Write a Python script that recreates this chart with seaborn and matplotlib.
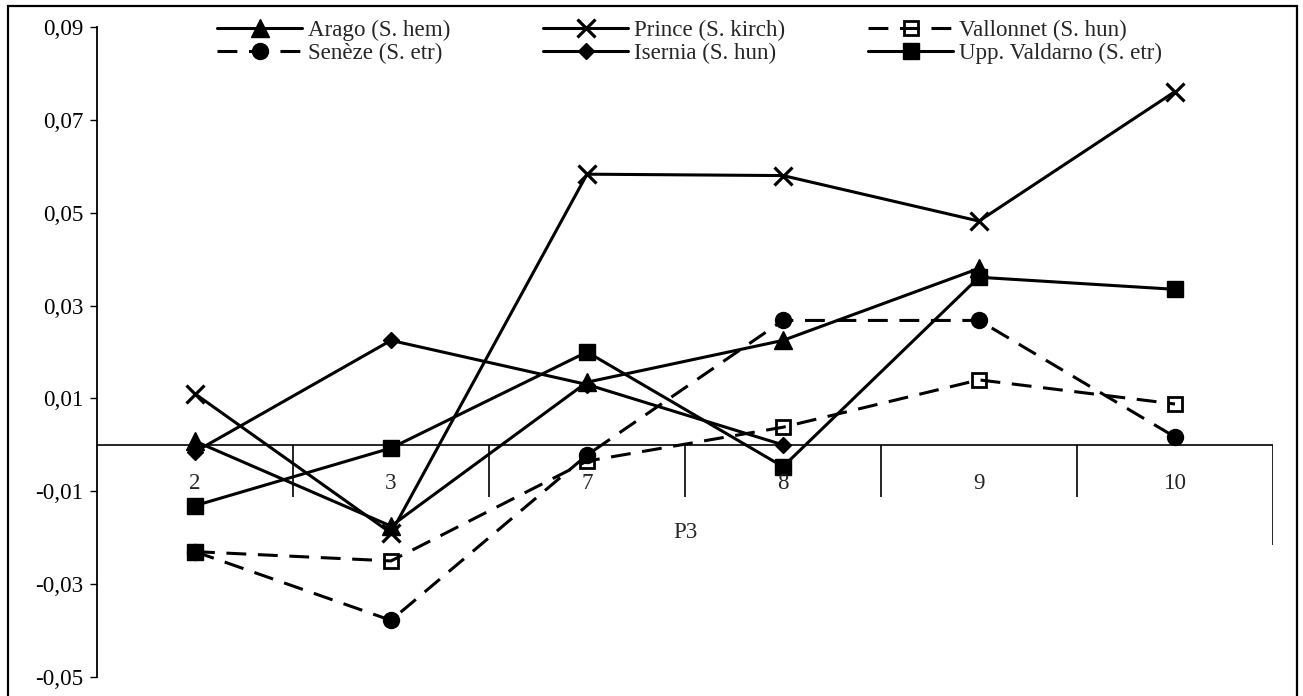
import numpy as np
import pandas as pd
import matplotlib
matplotlib.use("Agg")
import matplotlib.pyplot as plt
import seaborn as sns
from matplotlib.patches import Rectangle

# ---- data -------------------------------------------------------------
categories = ["2", "3", "7", "8", "9", "10"]

arago = [0.0008, -0.0175, 0.0135, 0.0225, 0.0380, np.nan]
prince = [0.0110, -0.0190, 0.0583, 0.0580, 0.0482, 0.0761]
vallonnet = [-0.0230, -0.0250, -0.0035, 0.0038, 0.0140, 0.0088]
seneze = [-0.0230, -0.0378, -0.0022, 0.0268, 0.0268, 0.0017]
isernia = [-0.0015, 0.0225, 0.0130, 0.0000, np.nan, np.nan]
valdarno = [-0.0131, -0.0007, 0.0200, -0.0047, 0.0361, 0.0335]

series_names = ["Arago (S. hem)", "Senèze (S. etr)", "Prince (S. kirch)",
                "Isernia (S. hun)", "Vallonnet (S. hun)", "Upp. Valdarno (S. etr)"]
series_values = [arago, seneze, prince, isernia, vallonnet, valdarno]

y_ticks = [-0.05, -0.03, -0.01, 0.01, 0.03, 0.05, 0.07, 0.09]
y_tick_labels = ["-0,05", "-0,03", "-0,01", "0,01", "0,03", "0,05", "0,07", "0,09"]
x_title = "P3"

# ---- styling ----------------------------------------------------------
sns.set_theme(style="white")
plt.rcParams["font.family"] = ["Liberation Serif", "DejaVu Serif"]
FS = 16.6

DASH = (0, (6.5, 3.8))
styles = {
    "Arago (S. hem)": dict(marker="^", markersize=13, markerfacecolor="black", linestyle="-"),
    "Senèze (S. etr)": dict(marker="o", markersize=11.5, markerfacecolor="black", linestyle=DASH),
    "Prince (S. kirch)": dict(marker="x", markersize=13, markerfacecolor="black", linestyle="-",
                              markeredgewidth=2.3),
    "Isernia (S. hun)": dict(marker="D", markersize=8.5, markerfacecolor="black", linestyle="-"),
    "Vallonnet (S. hun)": dict(marker="s", markersize=10.5, markerfacecolor="none", linestyle=DASH,
                               markeredgewidth=2.0),
    "Upp. Valdarno (S. etr)": dict(marker="s", markersize=11, markerfacecolor="black", linestyle="-"),
}

rows = []
for name, vals in zip(series_names, series_values):
    for i, v in enumerate(vals):
        rows.append({"series": name, "pos": i, "value": v})
df = pd.DataFrame(rows).dropna()

fig = plt.figure(figsize=(13.03, 6.96), dpi=100)
ax = fig.add_axes([97 / 1303, 19 / 696, 1176 / 1303, 650 / 696])

draw_order = ["Arago (S. hem)", "Prince (S. kirch)", "Vallonnet (S. hun)",
              "Senèze (S. etr)", "Isernia (S. hun)", "Upp. Valdarno (S. etr)"]
for name in draw_order:
    st = dict(styles[name])
    st.setdefault("markeredgewidth", 1.0)
    sub = df[df["series"] == name]
    sns.lineplot(data=sub, x="pos", y="value", ax=ax, color="black", linewidth=2.2,
                 markeredgecolor="black", errorbar=None, label=name, clip_on=False, **st)

# shared starting point of the two dashed series is drawn as a filled square
ax.plot([0], [seneze[0]], marker="s", markersize=11, color="black", linestyle="none",
        clip_on=False, zorder=5)

# category axis crossing at zero, with divider ticks between categories
ax.plot([-0.5, 5.5], [0, 0], color="black", linewidth=1.2, zorder=1)
ax.vlines([0.5, 1.5, 2.5, 3.5, 4.5], -0.0112, 0, color="black", linewidth=1.2)
ax.vlines([5.5], -0.0215, 0, color="black", linewidth=1.2)
for i, c in enumerate(categories):
    ax.text(i, -0.0083, c, ha="center", va="center", fontsize=FS)
ax.text(2.5, -0.0188, x_title, ha="center", va="center", fontsize=FS)

ax.set_xlim(-0.5, 5.5)
ax.set_ylim(-0.05, 0.09)
ax.set_yticks(y_ticks)
ax.set_yticklabels(y_tick_labels, fontsize=FS)
ax.set_xticks([])
ax.set_xlabel("")
ax.set_ylabel("")
for s in ["top", "right", "bottom"]:
    ax.spines[s].set_visible(False)
ax.spines["left"].set_linewidth(1.3)
ax.spines["left"].set_color("black")
ax.tick_params(axis="y", direction="out", length=5, width=1.0, pad=5.0,
               left=True, colors="black")
ax.patch.set_alpha(0)

# legend: three columns of two entries each
handles, labels = ax.get_legend_handles_labels()
hmap = dict(zip(labels, handles))
col_x = [217, 543, 868]
legends = []
for k, x0 in enumerate(col_x):
    names = series_names[2 * k:2 * k + 2]
    leg = ax.legend([hmap[n] for n in names], names, frameon=False,
                    loc="upper left", bbox_to_anchor=(x0 / 1303, 1 - 20 / 696),
                    bbox_transform=fig.transFigure, fontsize=FS, handlelength=3.7,
                    handletextpad=0.25, labelspacing=0.08, borderpad=0,
                    borderaxespad=0)
    legends.append(leg)
for leg in legends[:-1]:
    ax.add_artist(leg)

# outer frame of the figure
fig.patches.append(Rectangle((8 / 1303, -0.02), 1289 / 1303, 1 - 6 / 696 + 0.02,
                             transform=fig.transFigure, fill=False,
                             edgecolor="black", linewidth=1.6))

fig.savefig("out.png", dpi=100)
